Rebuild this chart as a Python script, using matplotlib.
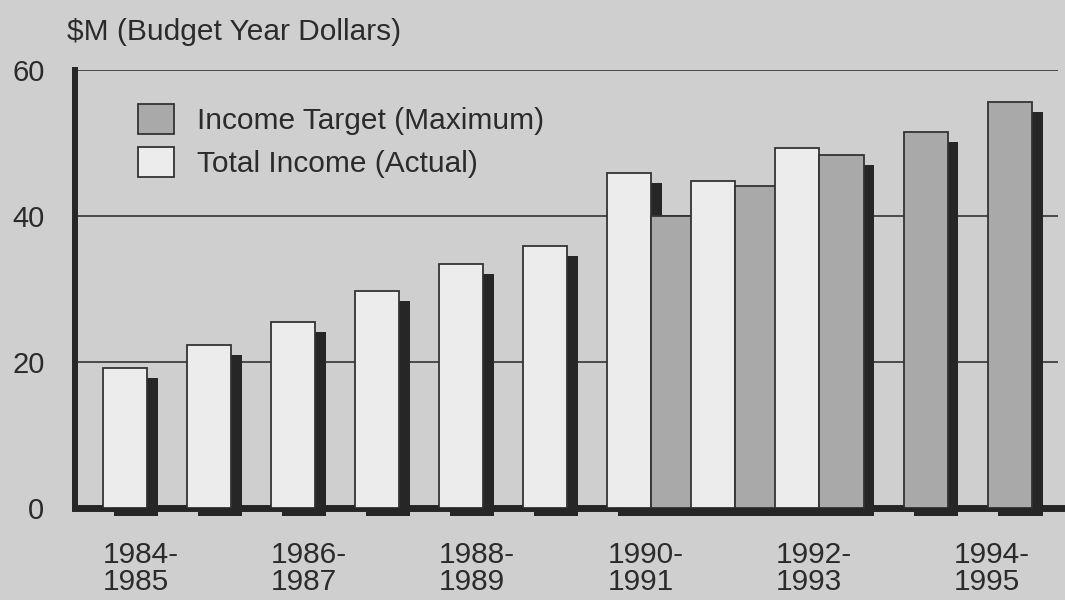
"""Income target vs. actual income, budget-year dollars."""

import matplotlib.pyplot as plt
from matplotlib.patches import Patch, Rectangle

years = ["1984-\n1985", "1985-\n1986", "1986-\n1987", "1987-\n1988", "1988-\n1989",
         "1989-\n1990", "1990-\n1991", "1991-\n1992", "1992-\n1993", "1993-\n1994",
         "1994-\n1995"]
# None = no bar that year
actual = [19.2, 22.3, 25.5, 29.7, 33.4, 35.9, 45.9, 44.8, 49.3, None, None]
target = [None, None, None, None, None, None, 40.0, 44.1, 48.4, 51.5, 55.6]
yticks = [0, 20, 40, 60]

BG = "#cfcfcf"
WHITE = "#ececec"
GREY = "#a9a9a9"
DARK = "#262626"
TEXT = "#2b2b2b"

plt.rcParams["font.family"] = ["Liberation Sans", "DejaVu Sans"]

fig = plt.figure(figsize=(10.65, 6.0), dpi=100, facecolor=BG)
ax = fig.add_axes([75 / 1065, 92 / 600, 983 / 1065, 438 / 600])
ax.set_facecolor(BG)

w = 0.524        # bar width in slot units
dx, dy = 0.13, 1.37   # shadow offset
x = list(range(len(years)))

bars = []
for i in x:
    if actual[i] is not None:
        bars.append((i - w / 2, actual[i], WHITE))
    if target[i] is not None:
        bars.append((i + w / 2, target[i], GREY))

for left, h, c in bars:
    ax.add_patch(Rectangle((left + dx, -1.1), w, h - dy + 1.1, facecolor=DARK,
                           edgecolor="none", zorder=2, clip_on=False))
for left, h, c in bars:
    ax.add_patch(Rectangle((left, 0), w, h, facecolor=c, edgecolor="#333333",
                           linewidth=1.3, zorder=3))

for v in yticks[1:]:
    ax.axhline(v, color="#333333", linewidth=1.2, zorder=1)
ax.axhline(0, color=DARK, linewidth=5, zorder=2.5, xmax=1.01, clip_on=False)

ax.set_xlim(-0.595, 11.1)
ax.set_ylim(0, 60)
for s in ["top", "right", "bottom"]:
    ax.spines[s].set_visible(False)
ax.spines["left"].set_linewidth(4.3)
ax.spines["left"].set_color(DARK)

ax.set_yticks(yticks)
ax.set_yticklabels([str(v) for v in yticks], fontsize=21, color=TEXT)
ax.tick_params(axis="y", length=0, pad=22)

# labels every other year, left-aligned on the first bar of the slot
tick_pos = []
for i in x[::2]:
    tick_pos.append(i - w / 2 if actual[i] is not None else i + w / 2 - 0.4)
ax.set_xticks(tick_pos)
ax.set_xticklabels(years[::2], fontsize=21.5, color=TEXT, ha="left",
                   linespacing=0.93)
ax.tick_params(axis="x", length=0, pad=24)

fig.text(67 / 1065, 1 - 40 / 600, "$M (Budget Year Dollars)", fontsize=21.5,
         color=TEXT, ha="left", va="baseline")

handles = [Patch(facecolor=GREY, edgecolor="#333333", linewidth=1.3),
           Patch(facecolor=WHITE, edgecolor="#333333", linewidth=1.3)]
fig.legend(handles, ["Income Target (Maximum)", "Total Income (Actual)"],
           loc="upper left", bbox_to_anchor=(138 / 1065, 1 - 104 / 600),
           frameon=False, fontsize=21.5, labelcolor=TEXT, borderpad=0,
           borderaxespad=0, handlelength=1.2, handleheight=1.17,
           handletextpad=0.77, labelspacing=0.4)

fig.savefig("out.png", dpi=100, facecolor=BG)
